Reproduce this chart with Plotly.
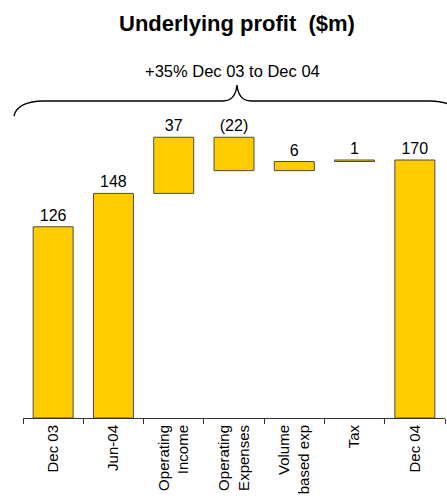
import plotly.graph_objects as go

# ---- data ----
categories = ["Dec 03", "Jun-04", "Operating<br>Income", "Operating<br>Expenses",
              "Volume<br>based exp", "Tax", "Dec 04"]
measures = ["absolute", "absolute", "relative", "relative", "relative", "relative", "total"]
values = [126, 148, 37, -22, 6, 1, 170]
value_labels = ["126", "148", "37", "(22)", "6", "1", "170"]
title_text = "<b>Underlying profit \u00a0($m)</b>"
brace_text = "+35% Dec 03 to Dec 04"

# ---- waterfall geometry from data ----
bases, heights = [], []
running = 0
for m, v in zip(measures, values):
    if m == "absolute":
        bases.append(0); heights.append(v); running = v
    elif m == "relative":
        bases.append(min(running, running + v)); heights.append(abs(v)); running += v
    else:
        bases.append(0); heights.append(running)

W, H = 447, 496
L, R, T, B = 23, 2, 80, 78
PW, PH = W - L - R, H - T - B
px_per_unit = 1.5176
ymax = PH / px_per_unit


def paper(x, y):
    return (x - L) / PW, (H - B - y) / PH


def pt(x, y):
    a, b = paper(x, y)
    return f"{a:.4f},{b:.4f}"


brace_path = (
    f"M {pt(14,116)} C {pt(16,106)} {pt(28,101)} {pt(43,101)} "
    f"L {pt(223,101)} C {pt(232,101)} {pt(236,95)} {pt(237,85)} "
    f"C {pt(238,95)} {pt(242,101)} {pt(251,101)} "
    f"L {pt(430,101)} C {pt(445,101)} {pt(458,106)} {pt(460,116)}"
)

FONT = "Arial, Liberation Sans, sans-serif"

fig = go.Figure(
    go.Bar(
        x=categories,
        y=heights,
        base=bases,
        text=value_labels,
        textposition="outside",
        constraintext="none",
        cliponaxis=False,
        textfont=dict(family=FONT, size=16, color="#000000"),
        marker=dict(color="#FFCC00", line=dict(color="#4d4d40", width=1)),
        hoverinfo="skip",
    )
)

fig.update_layout(
    width=W, height=H,
    margin=dict(l=L, r=R, t=T, b=B, autoexpand=False),
    paper_bgcolor="white", plot_bgcolor="white",
    showlegend=False,
    bargap=0.337,
    font=dict(family=FONT, color="#000000"),
    title=dict(text=title_text, x=paper(237, 0)[0], xref="paper", xanchor="center",
               y=1 - 23 / H, yref="container", yanchor="middle",
               font=dict(family=FONT, size=22, color="#000000")),
    xaxis=dict(
        type="category", range=[-0.5, 6.5], showgrid=False, zeroline=False,
        showline=True, linecolor="#333333", linewidth=1,
        ticks="outside", tickson="boundaries", ticklen=5, tickcolor="#333333",
        tickangle=-90, tickfont=dict(family=FONT, size=15, color="#000000"),
        automargin=False,
    ),
    yaxis=dict(visible=False, range=[0, ymax], fixedrange=True),
    shapes=[dict(type="path", xref="paper", yref="paper", path=brace_path,
                 line=dict(color="#000000", width=1.4))],
    annotations=[dict(text=brace_text, xref="paper", yref="paper",
                      x=paper(232, 71)[0], y=paper(232, 71)[1],
                      xanchor="center", yanchor="middle", showarrow=False,
                      font=dict(family=FONT, size=16.5, color="#000000"))],
)

fig.write_html("out.html", config={"displayModeBar": False},
               post_script="document.body.style.margin='0px';document.body.style.overflow='hidden';")
